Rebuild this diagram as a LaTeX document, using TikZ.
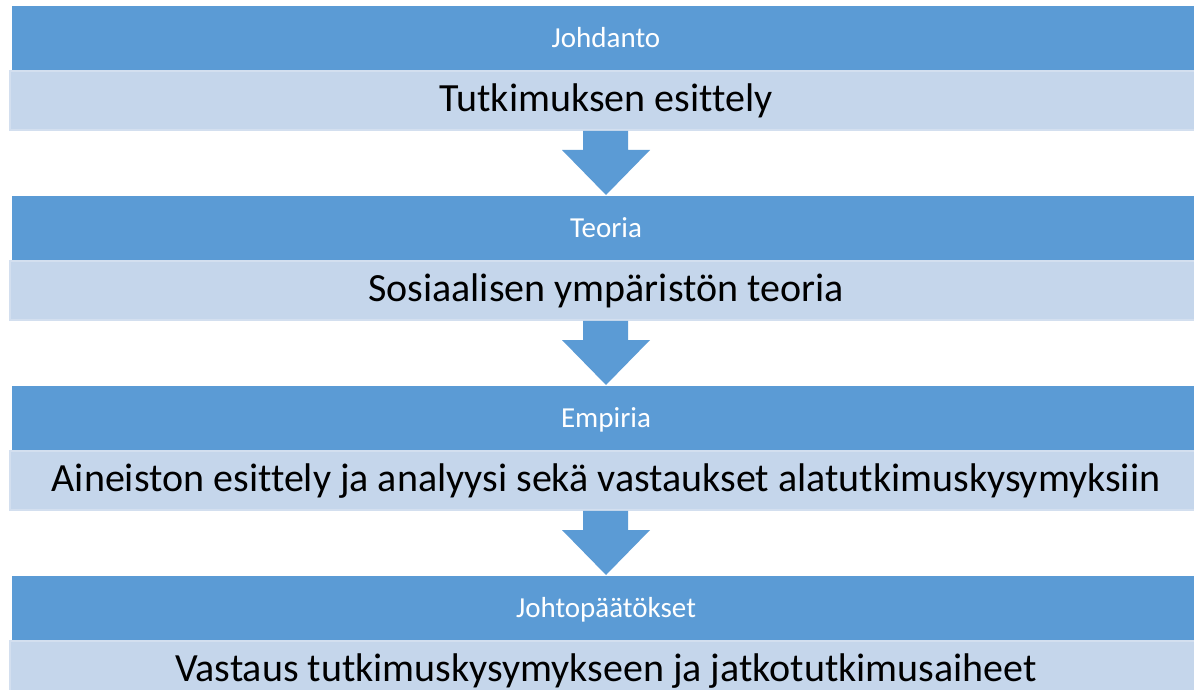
\documentclass[tikz,border=0pt]{standalone}
\usepackage{fontspec}
\setmainfont[Ligatures={NoCommon}]{Carlito}
\definecolor{barblue}{HTML}{5B9BD5}
\definecolor{barlight}{HTML}{C5D6EB}
\definecolor{baredge}{HTML}{D3DFEF}
\begin{document}
\begin{tikzpicture}[x=1pt,y=-1pt,
  headbar/.style={rectangle, fill=barblue, draw=none, inner sep=0pt, outer sep=0pt,
    minimum width=1200pt, minimum height=65pt, anchor=north west},
  bodybar/.style={rectangle, fill=barlight, draw=baredge, line width=1.5pt, inner sep=0pt, outer sep=0pt,
    minimum width=1200pt, minimum height=59pt, anchor=north west},
  headtext/.style={text=white, font=\fontsize{29}{34}\selectfont, inner sep=0pt, anchor=base},
  bodytext/.style={text=black, font=\fontsize{40}{48}\selectfont, inner sep=0pt, anchor=base},
  downarrow/.style={fill=barblue, draw=none}]
\useasboundingbox (0,0) rectangle (1194,690);
\clip (0,0) rectangle (1194,690);
\fill[white] (0,0) rectangle (1194,690);
\foreach \i/\h/\b in {0/Johdanto/Tutkimuksen esittely,
                      1/Teoria/Sosiaalisen ympäristön teoria,
                      2/Empiria/Aineiston esittely ja analyysi sekä vastaukset alatutkimuskysymyksiin,
                      3/Johtopäätökset/Vastaus tutkimuskysymykseen ja jatkotutkimusaiheet}{
  \pgfmathsetmacro{\yy}{6+190*\i}
  \node[headbar] (h\i) at (12,\yy) {};
  \node[bodybar] (b\i) at (10,\yy+65) {};
  \node[headtext] (ht\i) at (606,\yy+41.3) {\h};
  \node[bodytext] (bt\i) at (606,\yy+105.7) {\b};
}
\foreach \i in {0,1,2}{
  \pgfmathsetmacro{\yy}{6+190*\i}
  \fill[downarrow] (583,\yy+124.8) -- (628,\yy+124.8) -- (628,\yy+144) -- (650,\yy+144)
    -- (606,\yy+189) -- (562,\yy+144) -- (583,\yy+144) -- cycle;
}
\end{tikzpicture}
\end{document}
